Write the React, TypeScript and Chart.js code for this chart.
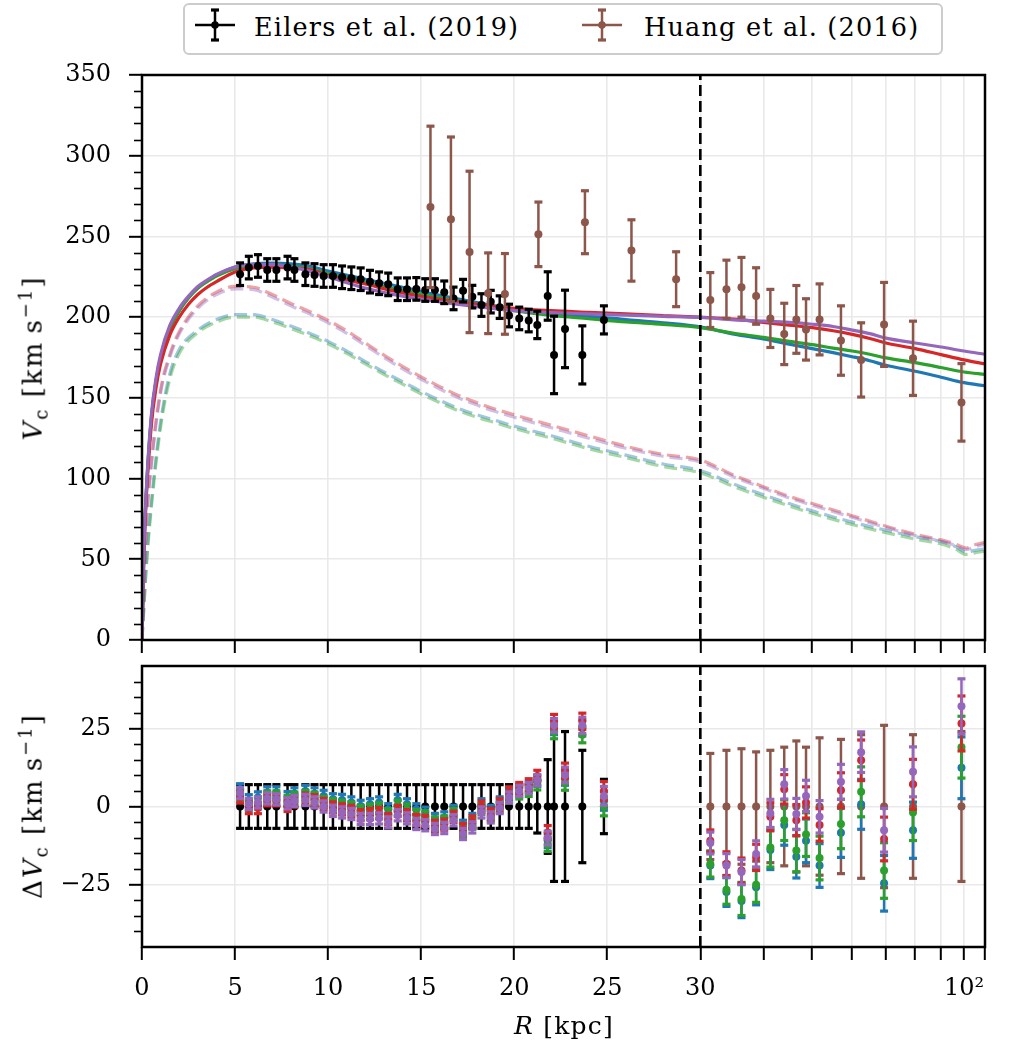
import React, { useEffect, useRef } from 'react';
import { Chart, LinearScale, registerables } from 'chart.js';

// ---- data ----
const eilersR = [5.27, 5.74, 6.23, 6.73, 7.22, 7.82, 8.19, 8.78, 9.27, 9.76, 10.26, 10.75, 11.25, 11.75, 12.25, 12.74, 13.23, 13.74, 14.24, 14.74, 15.22, 15.74, 16.24, 16.74, 17.25, 17.75, 18.24, 18.74, 19.22, 19.72, 20.27, 20.78, 21.24, 21.8, 22.14, 22.73, 23.66, 24.82];
const eilersV = [226.6, 230.7, 231.7, 229.2, 229.2, 230.7, 229.2, 226.6, 226.1, 225.5, 225.5, 224.7, 224.1, 223.5, 222.0, 221.0, 220.3, 217.3, 217.3, 217.5, 216.8, 216.8, 215.4, 211.6, 216.4, 212.7, 207.5, 209.6, 206.2, 201.0, 199.2, 197.9, 195.2, 213.1, 176.6, 192.7, 176.6, 198.3];
const eilersErr = [7, 7, 7, 7, 7, 7, 7, 7, 7, 7, 7, 7, 7, 7, 7, 7, 7, 7, 7, 7, 7, 7, 7, 7, 7, 7, 7, 7, 7, 7, 7, 7, 8.5, 15, 24, 24, 18, 8.7];

const huangR = [15.5, 16.6, 17.6, 18.6, 19.5, 21.3, 23.8, 26.3, 28.7, 31.4, 33.8, 36.2, 38.7, 41.3, 44.0, 46.5, 48.6, 51.7, 57.0, 62.5, 69.4, 79.2, 98.8];
const huangV = [268.3, 260.6, 240.4, 214.8, 214.4, 251.3, 258.8, 241.3, 223.5, 210.6, 217.3, 218.5, 213.1, 199.2, 189.6, 198.6, 192.4, 198.6, 185.5, 173.5, 195.5, 174.5, 147.2];
const huangErr = [50, 51, 50, 25, 25, 20, 19.5, 19, 17, 17, 18, 18.5, 17.5, 18, 19, 21, 19, 22, 21.5, 23, 26, 23, 24];

// total circular velocity of the four models
const modelR = [0, 0.1, 0.25, 0.5, 0.75, 1, 1.5, 2, 2.5, 3, 3.5, 4, 5, 6, 7, 8, 9, 10, 12, 14, 16, 18, 20, 22, 24, 26, 28, 30, 35, 40, 45, 50, 55, 60, 65, 70, 80, 90, 100, 110];
const blueV = [0, 55, 95, 137, 160, 175, 193, 204, 212, 218, 222.5, 226, 231, 233, 233.5, 233, 231.5, 228.5, 223.5, 218.5, 213.5, 209, 205, 202, 200.5, 198.5, 196.5, 194, 189.5, 186.5, 183.3, 180.5, 178, 175.5, 173, 170.2, 166.5, 162.8, 159.4, 157.5];
const greenV = [0, 55, 95, 137, 160, 175, 193, 204, 212, 218, 222, 225.5, 230, 232, 232.5, 231.5, 230, 227, 221.5, 216.5, 212, 208, 204, 201, 199, 197, 195.5, 193.5, 190, 187.5, 185, 183, 180.8, 179, 177, 174.8, 171.8, 168.8, 166, 164.5];
const redV = [0, 53, 92, 133, 156, 171, 189, 200, 208, 214, 218.5, 222, 228, 230.5, 231, 230.5, 229.5, 226, 220.5, 215, 211, 208, 205.5, 204, 203, 202, 201, 200, 198.8, 196.7, 195, 193.5, 191.6, 189.3, 186.8, 184, 180.5, 176.8, 173.5, 171];
const purpleV = [0, 56, 97, 139, 162, 177, 195, 205.5, 213, 219, 223, 226.5, 231, 232.5, 232.5, 231, 228.5, 225, 218, 213, 209.5, 206.5, 204, 202.8, 202, 201.2, 200.5, 199.8, 198.3, 197.5, 196.7, 195.6, 194.2, 192, 189.8, 187, 184, 181.5, 179, 177];

// dashed component curves
const dashR = [0, 0.25, 0.5, 1, 1.5, 2, 3, 4, 5, 6, 7, 8, 9, 10, 11, 12, 13, 14, 15, 16, 17, 18, 19, 20, 22, 24, 26, 28, 30, 35, 40, 45, 50, 60, 70, 80, 90, 96, 101, 105, 110];
const redD = [0, 75, 110, 155, 177, 191, 207, 215.5, 219, 218.5, 214, 208.5, 203.5, 198, 191.5, 184, 176.5, 169.5, 163, 157, 151.5, 147, 143, 139.5, 133, 126.5, 120, 115, 111.5, 102, 95, 89, 84.5, 77, 70.5, 65.5, 62, 59.5, 57, 59, 60.5];
const purpleD = [0, 73, 108, 153, 175.5, 189.5, 205.5, 214, 217.5, 217, 212.5, 207, 202, 196.5, 190, 182.5, 175, 168, 161.5, 155.5, 150, 145.5, 141.5, 138, 131.5, 125, 118.8, 113.8, 110.3, 101, 94, 88, 83.5, 76, 69.7, 64.7, 61.2, 58.7, 56, 57.8, 59.4];
const blueD = [0, 50, 85, 135, 165, 180, 192, 198.5, 201.5, 201.5, 198.5, 194.5, 190, 185, 179, 172.5, 166, 160, 154, 148.5, 143.5, 139.5, 136, 132.5, 126.5, 120, 114.5, 109, 105, 96.5, 90, 84.5, 80, 73, 68, 64, 61, 58, 54.5, 55.5, 56.5];
const greenD = [0, 48, 82, 132, 162, 177.5, 190.5, 197, 200, 200, 197, 193, 188.5, 183.5, 177.5, 171, 164.5, 158.5, 152.5, 147, 142, 138, 134.5, 131, 125, 118.5, 113, 107.5, 103.5, 95, 88.5, 83, 78.5, 71.5, 66.5, 62.5, 59.5, 56.5, 53, 54, 55];

// residuals (model - data) at the Eilers radii
const resBlueE = [5.5, 2, 2.9, 4.5, 4.5, 3, 4.2, 5, 4.2, 3.4, 2.3, 2.1, 1.3, 0.2, 0.7, 1.3, -0.9, 2.1, 0.7, -0.9, -2, -4, -3.5, -1.4, -6.2, -4, 0.7, -1.4, 1.3, 3.9, 5, 6.2, 8.2, -11, 25.2, 9.3, 25.2, 1.8];
const resGreenE = [3.6, 0.5, 1, 3.2, 3.2, 1.8, 2.8, 3.4, 2.8, 1.5, 0.8, 0.2, -0.3, -1.4, -1, -0.6, -2.5, 0.2, -1, -2.8, -3.2, -5.1, -4.8, -2.4, -7.8, -5.5, -0.8, -3, -0.1, 2.9, 4.2, 5, 7.1, -12.2, 23.9, 7.7, 23, 0];
const resRedE = [2.9, -0.5, -0.5, 2, 2, 0.2, 1.6, 2.5, 2, 0.8, -0.3, -0.9, -1.4, -2.8, -2.4, -2.1, -4, -1.4, -2.8, -4.3, -4.6, -6.2, -5.8, -3.3, -7.2, -4.8, 0, -2.4, 0.7, 4.5, 5.9, 7.1, 9.8, -8.3, 27.3, 11.4, 27.3, 5];
const resPurpleE = [4.3, 0.8, 1.3, 2.6, 2.3, 1, 1.8, 2.1, 1.3, 0, -1.4, -1.9, -2.4, -4, -4, -3.8, -5.1, -2.8, -3.8, -5.6, -6, -7.2, -6.9, -4.4, -8.8, -6.7, -1.9, -3.5, -0.5, 2.9, 5, 5.9, 8.4, -10.1, 26, 10.1, 26, 3.4];
const resErrE = [1.8, 1.8, 1.8, 1.8, 1.8, 1.8, 1.8, 1.8, 1.8, 1.8, 1.8, 1.8, 1.8, 1.8, 1.8, 1.8, 1.8, 1.8, 1.8, 1.8, 1.8, 1.8, 1.8, 1.8, 1.8, 1.8, 1.8, 1.8, 1.8, 1.8, 1.8, 1.8, 1.8, 2.2, 2.2, 2.5, 2.6, 3];

// residuals at the outer Huang radii (R > 30)
const resBlueH = [-18.9, -27.4, -30.3, -25.9, -13.9, -5.9, -16.1, -11, -18.9, -8.4, 0.7, -24.6, -7.6, 12.4];
const resGreenH = [-18.4, -26.7, -29.6, -25.1, -13.1, -4.4, -14.1, -9, -16.5, -5.6, 4.7, -20.5, -1.9, 19];
const resRedH = [-11, -18.3, -20.5, -16.3, -3.3, 5.5, -4.4, 1.3, -5.9, 5.2, 14.8, -10.4, 7.1, 26.6];
const resPurpleH = [-11.7, -18.9, -21, -15.2, -2.2, 7.1, -2.4, 3.4, -3.3, 7.9, 17.4, -7.6, 11.1, 32.1];
const resErrH_bg = [4.2, 4.6, 5.3, 5.6, 6.3, 6.5, 6.8, 7, 7, 7.9, 8, 8.9, 9, 9.9];
const resErrH_rp = [3.5, 3.8, 4, 4.2, 4.5, 4.7, 5, 5, 5.2, 5.6, 6.5, 7, 8, 8.8];

const xTicks = [0, 5, 10, 15, 20, 25, 30, 40, 50, 60, 70, 80, 90, 100, 110];

const BLUE = '#1f77b4';
const GREEN = '#2ca02c';
const RED = '#d62728';
const PURPLE = '#9467bd';
const BROWN = '#8c564b';
const GRID = '#e9e9e9';
const FONT = '"DejaVu Serif"';

// linear up to 30 kpc, logarithmic beyond
class HybridScale extends LinearScale {
  static id = 'hybrid';
  buildTicks() {
    return ((this.options as any).tickValues as number[]).map((v) => ({ value: v }));
  }
  toDecimal(v: number) {
    const o: any = this.options;
    const b = o.breakAt, f = o.linearFraction;
    if (v <= b) return ((v - this.min) / (b - this.min)) * f;
    return f + (1 - f) * Math.log(v / b) / Math.log(this.max / b);
  }
  getPixelForValue(value: any) {
    if (value === null || value === undefined || isNaN(value)) return NaN;
    return this.getPixelForDecimal(this.toDecimal(value));
  }
  getValueForPixel(pixel: number) {
    const o: any = this.options;
    const b = o.breakAt, f = o.linearFraction;
    const d = this.getDecimalForPixel(pixel);
    if (d <= f) return this.min + (d / f) * (b - this.min);
    return b * Math.pow(this.max / b, (d - f) / (1 - f));
  }
}

Chart.register(...registerables, HybridScale as any);

const frame = {
  id: 'frame',
  afterDatasetsDraw(chart: any) {
    const { ctx, chartArea: a } = chart;
    ctx.save();
    ctx.strokeStyle = '#000';
    ctx.lineWidth = 2.5;
    ctx.strokeRect(a.left, a.top, a.right - a.left, a.bottom - a.top);
    ctx.restore();
  },
};

const minorTicks = {
  id: 'minorTicks',
  afterDraw(chart: any, _args: any, opts: any) {
    const { ctx, chartArea } = chart;
    const y = chart.scales.y;
    ctx.save();
    ctx.strokeStyle = '#000';
    ctx.lineWidth = 1.6;
    (opts.values || []).forEach((v: number) => {
      const py = Math.round(y.getPixelForValue(v)) + 0.5;
      ctx.beginPath();
      ctx.moveTo(chartArea.left - 8, py);
      ctx.lineTo(chartArea.left, py);
      ctx.stroke();
    });
    ctx.restore();
  },
};

function errBars(xs: number[], ys: number[], es: number[], color: string) {
  return {
    data: xs.flatMap((x, i) => [{ x, y: ys[i] - es[i] }, { x, y: ys[i] + es[i] }, { x, y: null }]),
    borderColor: color,
    borderWidth: 2.5,
    pointRadius: 0,
    showLine: true,
    spanGaps: false,
    tension: 0,
  };
}

function errCaps(xs: number[], ys: number[], es: number[], color: string) {
  return {
    data: xs.flatMap((x, i) => [{ x, y: ys[i] - es[i] }, { x, y: ys[i] + es[i] }]),
    showLine: false,
    pointStyle: 'line',
    pointRadius: 4,
    pointBorderWidth: 3.2,
    pointBorderColor: color,
  };
}

function marks(xs: number[], ys: number[], color: string, r = 4) {
  return {
    data: xs.map((x, i) => ({ x, y: ys[i] })),
    showLine: false,
    pointStyle: 'circle',
    pointRadius: r,
    pointBackgroundColor: color,
    pointBorderColor: color,
    pointBorderWidth: 0,
  };
}

function errorbar(xs: number[], ys: number[], es: number[], color: string) {
  return [errBars(xs, ys, es, color), errCaps(xs, ys, es, color), marks(xs, ys, color)];
}

function curve(xs: number[], ys: number[], color: string, dash: number[] = []) {
  return {
    data: xs.map((x, i) => ({ x, y: ys[i] })),
    borderColor: color,
    borderWidth: 3.2,
    borderDash: dash,
    pointRadius: 0,
    cubicInterpolationMode: 'monotone',
  };
}

function vline(y0: number, y1: number) {
  return {
    data: [{ x: 30, y: y0 }, { x: 30, y: y1 }],
    borderColor: '#000',
    borderWidth: 2.6,
    borderDash: [11, 5],
    pointRadius: 0,
    tension: 0,
  };
}

// first in the list is drawn at the back
function stackOrder(list: any[]) {
  return list.map((d, i) => ({ ...d, order: -i }));
}

const alpha = (hex: string, a: number) => {
  const n = parseInt(hex.slice(1), 16);
  return `rgba(${(n >> 16) & 255}, ${(n >> 8) & 255}, ${n & 255}, ${a})`;
};

function xLabel(v: number) {
  if (v === 100) return '10²';
  if (v <= 30) return String(v);
  return '';
}

// keep the label overhang from shrinking the plot area
function noPad(s: any) {
  s.paddingTop = 0;
  s.paddingBottom = 0;
  s.paddingLeft = 0;
  s.paddingRight = 0;
}

function xScale(showLabels: boolean, height: number) {
  return {
    type: 'hybrid',
    min: 0,
    max: 110,
    breakAt: 30,
    linearFraction: 0.6623,
    tickValues: xTicks,
    afterFit: (s: any) => { s.height = height; noPad(s); },
    grid: { color: GRID, lineWidth: 1.6, drawTicks: true, tickLength: 13, tickColor: '#000', tickWidth: 2 },
    border: { display: false },
    ticks: {
      display: showLabels, autoSkip: false, maxRotation: 0, padding: 14,
      font: { size: 24, family: FONT }, color: '#000',
      callback: (v: number) => xLabel(v),
    },
  };
}

function yScale(min: number, max: number, ticks: number[]) {
  return {
    min,
    max,
    afterFit: (s: any) => { s.width = 142; noPad(s); },
    afterBuildTicks: (s: any) => { s.ticks = ticks.map((v) => ({ value: v })); },
    grid: { color: GRID, lineWidth: 1.6, drawTicks: true, tickLength: 13, tickColor: '#000', tickWidth: 2 },
    border: { display: false },
    ticks: {
      padding: 18, font: { size: 24, family: FONT }, color: '#000',
      callback: (v: number) => (v < 0 ? '\u2212' + Math.abs(v) : String(v)),
    },
  };
}

const topTicks = [0, 50, 100, 150, 200, 250, 300, 350];
const topMinor = Array.from({ length: 35 }, (_, i) => i * 10).filter((v) => v % 50 !== 0);
const botTicks = [-25, 0, 25];
const botMinor = [-40, -35, -30, -20, -15, -10, -5, 5, 10, 15, 20, 30, 35, 40];

function ErrGlyph({ color, left }: { color: string; left: number }) {
  return (
    <svg width={40} height={34} style={{ position: 'absolute', left, top: 8 }}>
      <line x1={0} y1={17} x2={40} y2={17} stroke={color} strokeWidth={2.5} />
      <line x1={20} y1={2} x2={20} y2={32} stroke={color} strokeWidth={2.5} />
      <line x1={16} y1={2} x2={24} y2={2} stroke={color} strokeWidth={3.2} />
      <line x1={16} y1={32} x2={24} y2={32} stroke={color} strokeWidth={3.2} />
      <circle cx={20} cy={17} r={3.8} fill={color} />
    </svg>
  );
}

export default function App() {
  const topRef = useRef<HTMLCanvasElement>(null);
  const botRef = useRef<HTMLCanvasElement>(null);

  useEffect(() => {
    const outer = huangR.map((_, i) => i).filter((i) => huangR[i] > 30);
    const outerR = outer.map((i) => huangR[i]);
    const outerErr = outer.map((i) => huangErr[i]);
    const zerosE = eilersR.map(() => 0);
    const zerosH = outerR.map(() => 0);

    const topSets = stackOrder([
      curve(dashR, blueD, alpha(BLUE, 0.42), [13, 6]),
      curve(dashR, greenD, alpha(GREEN, 0.42), [13, 6]),
      curve(dashR, redD, alpha(RED, 0.42), [13, 6]),
      curve(dashR, purpleD, alpha(PURPLE, 0.42), [13, 6]),
      curve(modelR, blueV, BLUE),
      curve(modelR, greenV, GREEN),
      curve(modelR, redV, RED),
      curve(modelR, purpleV, PURPLE),
      vline(0, 350),
      ...errorbar(eilersR, eilersV, eilersErr, '#000'),
      ...errorbar(huangR, huangV, huangErr, BROWN),
    ]);

    const botSets = stackOrder([
      vline(-45, 45),
      ...errorbar(eilersR, zerosE, eilersErr, '#000'),
      ...errorbar(outerR, zerosH, outerErr, BROWN),
      ...errorbar(eilersR, resBlueE, resErrE, BLUE),
      ...errorbar(outerR, resBlueH, resErrH_bg, BLUE),
      ...errorbar(eilersR, resGreenE, resErrE, GREEN),
      ...errorbar(outerR, resGreenH, resErrH_bg, GREEN),
      ...errorbar(eilersR, resRedE, resErrE, RED),
      ...errorbar(outerR, resRedH, resErrH_rp, RED),
      ...errorbar(eilersR, resPurpleE, resErrE, PURPLE),
      ...errorbar(outerR, resPurpleH, resErrH_rp, PURPLE),
    ]);

    const common = {
      animation: false,
      responsive: false,
      maintainAspectRatio: false,
      events: [],
    };

    const top = new Chart(topRef.current as HTMLCanvasElement, {
      type: 'line',
      data: { datasets: topSets as any },
      options: {
        ...common,
        layout: { autoPadding: false, padding: { left: 0, right: 30, top: 75, bottom: 0 } },
        plugins: { legend: { display: false }, tooltip: { enabled: false }, minorTicks: { values: topMinor } } as any,
        scales: { x: xScale(false, 15), y: yScale(0, 350, topTicks) } as any,
      } as any,
      plugins: [frame, minorTicks],
    });

    const bot = new Chart(botRef.current as HTMLCanvasElement, {
      type: 'line',
      data: { datasets: botSets as any },
      options: {
        ...common,
        layout: { autoPadding: false, padding: { left: 0, right: 30, top: 11, bottom: 0 } },
        plugins: { legend: { display: false }, tooltip: { enabled: false }, minorTicks: { values: botMinor } } as any,
        scales: { x: xScale(true, 104), y: yScale(-45, 45, botTicks) } as any,
      } as any,
      plugins: [frame, minorTicks],
    });

    return () => {
      top.destroy();
      bot.destroy();
    };
  }, []);

  const text: React.CSSProperties = {
    position: 'absolute',
    fontFamily: FONT,
    fontSize: 24,
    whiteSpace: 'nowrap',
    color: '#000',
    letterSpacing: 1.2,
  };
  const legendText: React.CSSProperties = { ...text, fontSize: 25.5, top: 12, lineHeight: '30px' };
  const axisTitle: React.CSSProperties = { ...text, fontSize: 26, letterSpacing: 2 };
  const small: React.CSSProperties = { fontSize: 18 };

  return (
    <div style={{ position: 'absolute', left: 0, top: 0, width: 1015, height: 1051, background: '#fff' }}>
      <canvas ref={topRef} width={1015} height={655} style={{ position: 'absolute', left: 0, top: 0 }} />
      <canvas ref={botRef} width={1015} height={396} style={{ position: 'absolute', left: 0, top: 655 }} />

      <div
        style={{
          position: 'absolute', left: 183, top: 3, width: 760, height: 52, boxSizing: 'border-box',
          border: '2.5px solid #cccccc', borderRadius: 6, background: '#fff',
        }}
      />
      <ErrGlyph color="#000" left={195} />
      <div style={{ ...legendText, left: 254 }}>Eilers et al. (2019)</div>
      <ErrGlyph color={BROWN} left={582} />
      <div style={{ ...legendText, left: 644 }}>Huang et al. (2016)</div>

      <div style={{ ...axisTitle, left: 33, top: 358, transform: 'translate(-50%, -50%) rotate(-90deg)' }}>
        <i>V</i><sub style={small}>c</sub> [km&thinsp;s<sup style={small}>{'\u2212'}1</sup>]
      </div>
      <div style={{ ...axisTitle, left: 33, top: 806, transform: 'translate(-50%, -50%) rotate(-90deg)' }}>
        {'\u0394'}<i>V</i><sub style={small}>c</sub> [km&thinsp;s<sup style={small}>{'\u2212'}1</sup>]
      </div>
      <div style={{ ...text, fontSize: 25, left: 564, top: 1025, transform: 'translate(-50%, -50%)' }}>
        <i>R</i> [kpc]
      </div>
    </div>
  );
}
